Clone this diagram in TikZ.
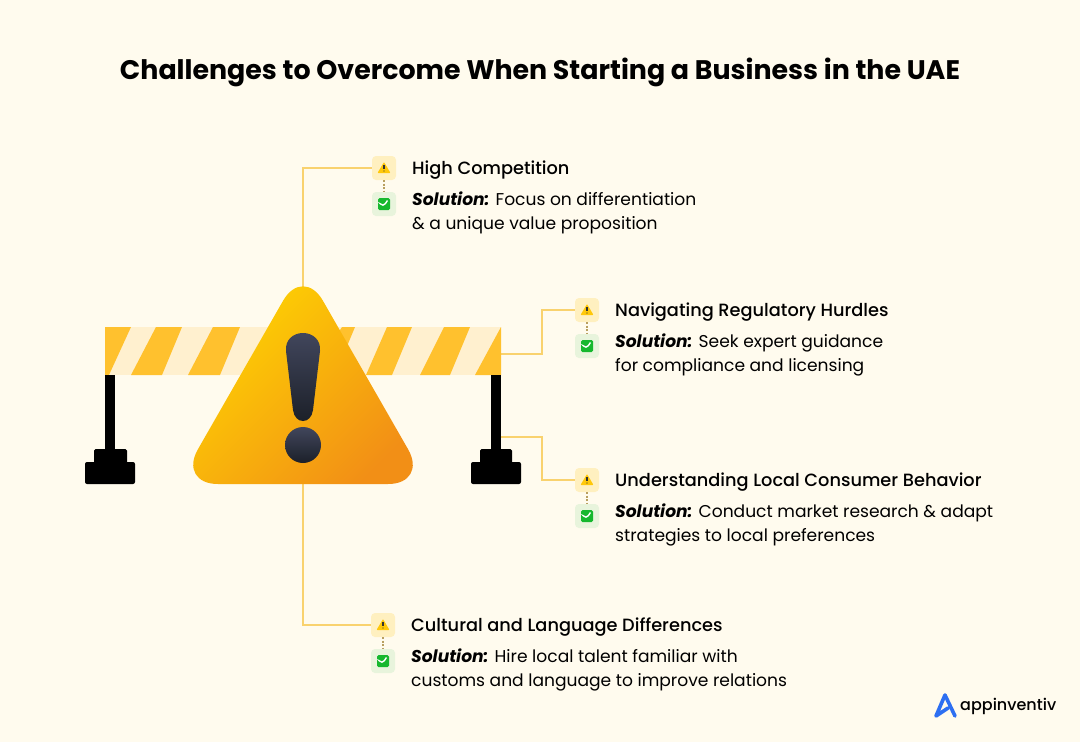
\documentclass[tikz,border=0pt]{standalone}
\usepackage{fontspec}
\setmainfont{Poppins}
\newfontfamily\medfont{Poppins Medium}
\usetikzlibrary{positioning}
\definecolor{pagebg}{HTML}{FFFBEE}
\definecolor{connyellow}{HTML}{F9D26E}
\definecolor{dashtan}{HTML}{B9A060}
\definecolor{stripeyellow}{HTML}{FFC12E}
\definecolor{stripecream}{HTML}{FFF0CF}
\definecolor{warnbg}{HTML}{FFF0C0}
\definecolor{checkbg}{HTML}{E8F4DC}
\definecolor{checkgreen}{HTML}{16B82E}
\definecolor{logoblue}{HTML}{2D6FF2}
\definecolor{signyellow}{HTML}{FFD800}
\definecolor{signmid}{HTML}{FFC80A}
\definecolor{signorange}{HTML}{F28F16}
\definecolor{marktop}{HTML}{41465C}
\definecolor{markbottom}{HTML}{1C2029}
\begin{document}
\begin{tikzpicture}[x=1pt,y=-1pt,
	connline/.style={draw=connyellow,line width=1.5pt},
	dashline/.style={draw=dashtan,line width=1.3pt,dash pattern=on 2pt off 1.5pt},
	warnbox/.style={fill=warnbg,rounded corners=4pt,minimum size=24pt,inner sep=0pt,
		path picture={
			\fill[fill=signmid,rounded corners=0.8pt] ([shift={(-6.5pt,-5pt)}]path picture bounding box.center) -- ++(13pt,0pt) -- ++(-6.5pt,11pt) -- cycle;
			\draw[black!80,line width=1.1pt] ([shift={(0pt,3pt)}]path picture bounding box.center) -- ++(0pt,-4pt);
			\fill[black!80] ([shift={(0pt,-3pt)}]path picture bounding box.center) circle (0.7pt);
		}},
	checkbox/.style={fill=checkbg,rounded corners=4pt,minimum size=24pt,inner sep=0pt,
		path picture={
			\fill[fill=checkgreen,rounded corners=1.5pt] ([shift={(-6pt,-6pt)}]path picture bounding box.center) rectangle ++(12pt,12pt);
			\draw[white,line width=1.4pt] ([shift={(-3.5pt,0pt)}]path picture bounding box.center) -- ++(2.5pt,-3pt) -- ++(4.5pt,6.5pt);
		}},
	headtext/.style={anchor=base west,inner sep=0pt,font=\medfont\fontsize{17.75}{24}\selectfont},
	soltext/.style={anchor=north west,inner sep=0pt,align=left,font=\fontsize{17.1}{24}\selectfont},
	]
	\useasboundingbox[fill=pagebg] (0,0) rectangle (1080,742);
	
	\node[anchor=base,inner sep=0pt,font=\bfseries\fontsize{26.85}{32}\selectfont] (titletext) at (540,79) {Challenges to Overcome When Starting a Business in the UAE};
	
	\coordinate (signtop) at (303,290);
	\coordinate (signbottom) at (303,480);
	\coordinate (barend) at (501,354);
	\coordinate (legright) at (491,437);
	
	\node[warnbox] (warnA) at (384,168) {};
	\node[checkbox] (checkA) at (384,204) {};
	\node[warnbox] (warnB) at (587,310) {};
	\node[checkbox] (checkB) at (587,346) {};
	\node[warnbox] (warnC) at (587,480) {};
	\node[checkbox] (checkC) at (587,516) {};
	\node[warnbox] (warnD) at (383,625) {};
	\node[checkbox] (checkD) at (383,661) {};
	
	\draw[dashline] (warnA) -- (checkA);
	\draw[dashline] (warnB) -- (checkB);
	\draw[dashline] (warnC) -- (checkC);
	\draw[dashline] (warnD) -- (checkD);
	
	\draw[connline] (signtop) |- (warnA);
	\draw[connline] (barend) -- ++(41,0) |- (warnB);
	\draw[connline] (legright) -- ++(51,0) |- (warnC);
	\draw[connline] (signbottom) |- (warnD);
	
	% barrier
	\fill[stripecream] (105,327) rectangle (501,375);
	\fill[stripeyellow] (105,327) -- (131,327) -- (109,375) -- (105,375) -- cycle;
	\fill[stripeyellow] (156,327) -- (182,327) -- (162,375) -- (131,375) -- cycle;
	\fill[stripeyellow] (213,327) -- (240,327) -- (220,375) -- (188,375) -- cycle;
	\fill[stripeyellow] (342,327) -- (355,327) -- (335,375) -- (310,375) -- cycle;
	\fill[stripeyellow] (387,327) -- (412,327) -- (392,375) -- (366,375) -- cycle;
	\fill[stripeyellow] (444,327) -- (470,327) -- (450,375) -- (420,375) -- cycle;
	\fill[stripeyellow] (501,327) -- (501,375) -- (475,375) -- cycle;
	
	% legs
	\fill[black] (105,375) rectangle (115,450);
	\fill[black,rounded corners=1.5pt] (94,449) rectangle (127,470);
	\fill[black,rounded corners=2pt] (85,462) rectangle (135,484);
	\fill[black] (491,375) rectangle (501,450);
	\fill[black,rounded corners=1.5pt] (480,449) rectangle (512,470);
	\fill[black,rounded corners=2pt] (471,462) rectangle (521,484);
	
	% sign
	\shade[rounded corners=40pt,left color=signyellow,middle color=signmid,right color=signorange,shading angle=45] (303,484) -- (428,484) -- (303,266) -- (178,484) -- cycle;
	\shade[top color=marktop,bottom color=markbottom] (303,333) .. controls (313,333) and (321,340) .. (320,351) -- (313,410) .. controls (312,417) and (308,421) .. (303,421) .. controls (298,421) and (294,417) .. (293,410) -- (286,351) .. controls (285,340) and (293,333) .. (303,333) -- cycle;
	\shade[top color=marktop,bottom color=markbottom] (303,445) circle (18);
	
	\node[headtext] (headA) at (412,174) {High Competition};
	\node[soltext] (solA) at (412,192) {\textbf{\textit{Solution:}} Focus on differentiation\\\& a unique value proposition};
	\node[headtext] (headB) at (615,316) {Navigating Regulatory Hurdles};
	\node[soltext] (solB) at (615,334) {\textbf{\textit{Solution:}} Seek expert guidance\\for compliance and licensing};
	\node[headtext] (headC) at (615,486) {Understanding Local Consumer Behavior};
	\node[soltext] (solC) at (615,504) {\textbf{\textit{Solution:}} Conduct market research \& adapt\\strategies to local preferences};
	\node[headtext] (headD) at (411,631) {Cultural and Language Differences};
	\node[soltext] (solD) at (411,649) {\textbf{\textit{Solution:}} Hire local talent familiar with\\customs and language to improve relations};
	
	% logo
	\draw[logoblue,line width=3.6pt,line join=round,line cap=round] (948,708) -- (936,716) -- (945,695) -- (955,716);
	\node[anchor=base west,inner sep=0pt,font=\medfont\fontsize{16}{20}\selectfont] (logotext) at (960,710) {appinventiv};
\end{tikzpicture}
\end{document}
